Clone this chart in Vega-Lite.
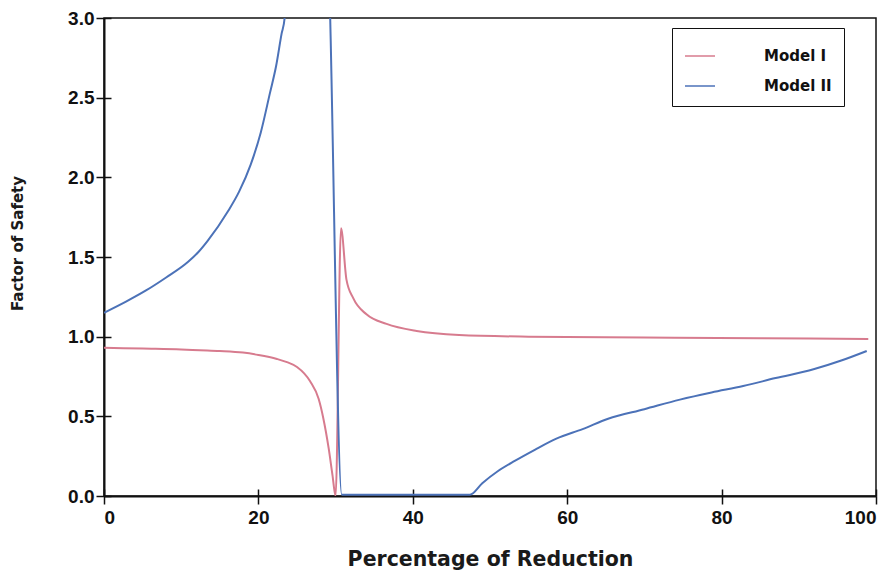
{
  "$schema": "https://vega.github.io/schema/vega-lite/v6.json",
  "width": 772,
  "height": 478,
  "autosize": {"type": "none"},
  "padding": {"left": 104, "top": 18, "right": 18, "bottom": 74},
  "background": "white",
  "config": {
    "view": {"stroke": "#111", "strokeWidth": 1.5},
    "axis": {"grid": false, "domainColor": "#111", "domainWidth": 2, "tickColor": "#111", "tickWidth": 1.5, "labelColor": "#111", "titleColor": "#1a1a1a"}
  },
  "data": {"values": [
    {"pct": 0, "fs": 0.93, "model": "Model I"},
    {"pct": 5, "fs": 0.925, "model": "Model I"},
    {"pct": 10, "fs": 0.92, "model": "Model I"},
    {"pct": 12.4, "fs": 0.915, "model": "Model I"},
    {"pct": 15, "fs": 0.91, "model": "Model I"},
    {"pct": 18, "fs": 0.9, "model": "Model I"},
    {"pct": 20, "fs": 0.885, "model": "Model I"},
    {"pct": 22.4, "fs": 0.86, "model": "Model I"},
    {"pct": 23.7, "fs": 0.84, "model": "Model I"},
    {"pct": 25, "fs": 0.81, "model": "Model I"},
    {"pct": 26.7, "fs": 0.72, "model": "Model I"},
    {"pct": 27.8, "fs": 0.61, "model": "Model I"},
    {"pct": 28.4, "fs": 0.49, "model": "Model I"},
    {"pct": 29.1, "fs": 0.3, "model": "Model I"},
    {"pct": 29.6, "fs": 0.13, "model": "Model I"},
    {"pct": 30.0, "fs": 0.0, "model": "Model I"},
    {"pct": 30.7, "fs": 1.68, "model": "Model I"},
    {"pct": 31.4, "fs": 1.36, "model": "Model I"},
    {"pct": 32.3, "fs": 1.24, "model": "Model I"},
    {"pct": 34.0, "fs": 1.14, "model": "Model I"},
    {"pct": 36.6, "fs": 1.08, "model": "Model I"},
    {"pct": 40.5, "fs": 1.035, "model": "Model I"},
    {"pct": 46, "fs": 1.01, "model": "Model I"},
    {"pct": 55, "fs": 1.0, "model": "Model I"},
    {"pct": 70, "fs": 0.995, "model": "Model I"},
    {"pct": 85, "fs": 0.99, "model": "Model I"},
    {"pct": 99, "fs": 0.985, "model": "Model I"},
    {"pct": 0, "fs": 1.15, "model": "Model II"},
    {"pct": 2.85, "fs": 1.22, "model": "Model II"},
    {"pct": 5.44, "fs": 1.29, "model": "Model II"},
    {"pct": 8, "fs": 1.37, "model": "Model II"},
    {"pct": 10.9, "fs": 1.47, "model": "Model II"},
    {"pct": 12.2, "fs": 1.53, "model": "Model II"},
    {"pct": 13.4, "fs": 1.6, "model": "Model II"},
    {"pct": 16.1, "fs": 1.79, "model": "Model II"},
    {"pct": 17.5, "fs": 1.91, "model": "Model II"},
    {"pct": 19, "fs": 2.08, "model": "Model II"},
    {"pct": 20.3, "fs": 2.28, "model": "Model II"},
    {"pct": 21.5, "fs": 2.53, "model": "Model II"},
    {"pct": 22.3, "fs": 2.7, "model": "Model II"},
    {"pct": 23.0, "fs": 2.9, "model": "Model II"},
    {"pct": 23.4, "fs": 3.0, "model": "Model II"},
    {"pct": 23.8, "fs": 3.5, "model": "Model II"},
    {"pct": 29.05, "fs": 3.5, "model": "Model II"},
    {"pct": 29.3, "fs": 3.0, "model": "Model II"},
    {"pct": 30.8, "fs": 0.008, "model": "Model II"},
    {"pct": 47.4, "fs": 0.008, "model": "Model II"},
    {"pct": 49, "fs": 0.08, "model": "Model II"},
    {"pct": 51, "fs": 0.155, "model": "Model II"},
    {"pct": 53.2, "fs": 0.22, "model": "Model II"},
    {"pct": 55.8, "fs": 0.29, "model": "Model II"},
    {"pct": 58.6, "fs": 0.36, "model": "Model II"},
    {"pct": 62, "fs": 0.42, "model": "Model II"},
    {"pct": 65.3, "fs": 0.485, "model": "Model II"},
    {"pct": 70, "fs": 0.545, "model": "Model II"},
    {"pct": 74.6, "fs": 0.605, "model": "Model II"},
    {"pct": 78.7, "fs": 0.65, "model": "Model II"},
    {"pct": 82.8, "fs": 0.69, "model": "Model II"},
    {"pct": 87, "fs": 0.74, "model": "Model II"},
    {"pct": 91.9, "fs": 0.795, "model": "Model II"},
    {"pct": 95.5, "fs": 0.85, "model": "Model II"},
    {"pct": 98.8, "fs": 0.91, "model": "Model II"}
  ]},
  "layer": [
    {
      "mark": {"type": "line", "clip": true, "strokeWidth": 2, "interpolate": "monotone"},
      "encoding": {
        "x": {"field": "pct", "type": "quantitative",
          "scale": {"domain": [0, 100], "nice": false},
          "axis": {"orient": "bottom", "values": [0, 20, 40, 60, 80, 100], "tickSize": 8, "labelPadding": 4,
            "labelFont": "Liberation Sans", "labelFontWeight": "bold", "labelFontSize": 19,
            "title": "Percentage of Reduction", "titleFont": "DejaVu Sans", "titleFontWeight": "bold", "titleFontSize": 20.5, "titlePadding": 22}},
        "y": {"field": "fs", "type": "quantitative",
          "scale": {"domain": [0, 3], "nice": false},
          "axis": {"orient": "left", "values": [0, 0.5, 1, 1.5, 2, 2.5, 3], "format": ".1f", "tickSize": 8, "labelPadding": 2,
            "labelFont": "Liberation Sans", "labelFontWeight": "bold", "labelFontSize": 19,
            "title": "Factor of Safety", "titleFont": "DejaVu Sans", "titleFontWeight": "bold", "titleFontSize": 15,
            "titleAngle": -90, "titleBaseline": "top", "titleAlign": "center", "titleX": -94, "titleY": 225}},
        "color": {"field": "model", "type": "nominal",
          "scale": {"domain": ["Model I", "Model II"], "range": ["#d77b8e", "#4c72b8"]},
          "legend": {"title": null, "orient": "none", "legendX": 568, "legendY": 10,
            "strokeColor": "#111", "fillColor": "white", "padding": 12,
            "symbolType": "stroke", "symbolSize": 900, "symbolStrokeWidth": 1.5, "rowPadding": 6,
            "labelFont": "DejaVu Sans", "labelFontWeight": "bold", "labelFontSize": 15, "labelColor": "#111", "labelOffset": 48}}
      }
    },
    {
      "mark": {"type": "point", "opacity": 0},
      "encoding": {
        "x": {"datum": 0, "type": "quantitative",
          "axis": {"orient": "bottom", "values": [0, 20, 40, 60, 80, 100], "tickSize": -7, "labels": false, "domain": false, "title": null}},
        "y": {"datum": 0, "type": "quantitative",
          "axis": {"orient": "left", "values": [0, 0.5, 1, 1.5, 2, 2.5, 3], "tickSize": -7, "labels": false, "domain": false, "title": null}}
      }
    }
  ],
  "resolve": {"axis": {"x": "independent", "y": "independent"}}
}
